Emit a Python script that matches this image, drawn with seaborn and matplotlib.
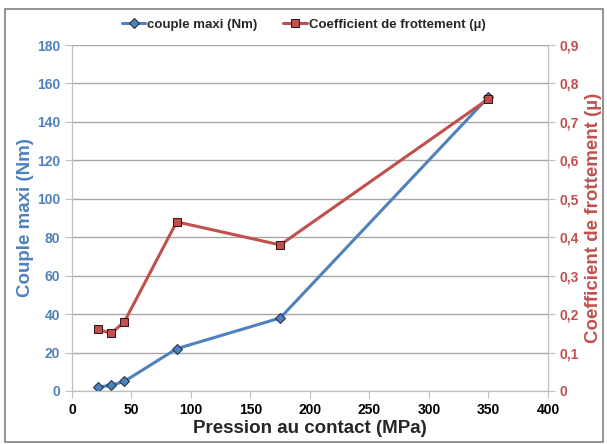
import numpy as np
import pandas as pd
import seaborn as sns
import matplotlib.pyplot as plt
from matplotlib.patches import Rectangle
from matplotlib.ticker import FuncFormatter

pression = [22, 33, 44, 88, 175, 350]
couple = [2, 3, 5, 22, 38, 153]
coef = [0.16, 0.15, 0.18, 0.44, 0.38, 0.76]

blue = "#4F81BD"
red = "#C0504D"

df = pd.DataFrame({"pression": pression, "couple": couple, "coef": coef})

sns.set_style("white")
plt.rcParams['font.family'] = ['Liberation Sans', 'DejaVu Sans']

fig = plt.figure(figsize=(6.07, 4.44), dpi=100)
ax = fig.add_axes([0.1186, 0.1194, 0.7842, 0.7792])
ax2 = ax.twinx()

sns.lineplot(data=df, x="pression", y="couple", ax=ax, color=blue, lw=2.2,
             marker="D", markersize=5.5, markeredgecolor="#1F2F45", markerfacecolor=blue,
             label="couple maxi (Nm)", legend=False)
sns.lineplot(data=df, x="pression", y="coef", ax=ax2, color=red, lw=2.2,
             marker="s", markersize=5.5, markeredgecolor="#3A1515", markerfacecolor=red,
             label="Coefficient de frottement (µ)", legend=False)

ax.set_xlim(0, 400)
ax.set_ylim(0, 180)
ax2.set_ylim(0, 0.9)
ax.set_xticks(np.arange(0, 401, 50))
ax.set_yticks(np.arange(0, 181, 20))
ax2.set_yticks(np.arange(0, 0.91, 0.1))
ax2.yaxis.set_major_formatter(FuncFormatter(lambda v, p: "0" if v == 0 else f"{v:.1f}".replace(".", ",")))

ax.grid(axis="y", color="#A6A6A6", lw=1)
ax.set_axisbelow(True)
for a in (ax, ax2):
    for s in a.spines.values():
        s.set_color("#BFBFBF")
    a.spines["top"].set_visible(False)

ax.tick_params(axis="y", colors="#BFBFBF", labelcolor=blue, length=5, direction="out", left=True, labelsize=10)
ax.tick_params(axis="x", colors="#BFBFBF", labelcolor="black", length=5, direction="out", bottom=True, labelsize=10)
ax2.tick_params(axis="y", colors="#BFBFBF", labelcolor=red, length=5, direction="out", right=True, labelsize=10)
for lab in ax.get_yticklabels() + ax2.get_yticklabels() + ax.get_xticklabels():
    lab.set_fontweight("bold")

ax.set_xlabel("Pression au contact (MPa)", fontsize=13.5, fontweight="bold", labelpad=2)
ax.set_ylabel("Couple maxi (Nm)", fontsize=13.5, fontweight="bold", color=blue, labelpad=2)
ax2.set_ylabel("Coefficient de frottement (µ)", fontsize=13.5, fontweight="bold", color=red, labelpad=4)

h1, l1 = ax.get_legend_handles_labels()
h2, l2 = ax2.get_legend_handles_labels()
fig.legend(h1 + h2, l1 + l2, loc="center", bbox_to_anchor=(0.5, 0.945), ncol=2, frameon=False,
           handlelength=1.8, columnspacing=2, handletextpad=0.1,
           prop={"weight": "bold", "size": 9.5})

fig.patches.append(Rectangle((0.008, 0.004), 0.986, 0.976, transform=fig.transFigure,
                             fill=False, edgecolor="#7F7F7F", lw=1.2))

fig.savefig("out.png", dpi=100)
